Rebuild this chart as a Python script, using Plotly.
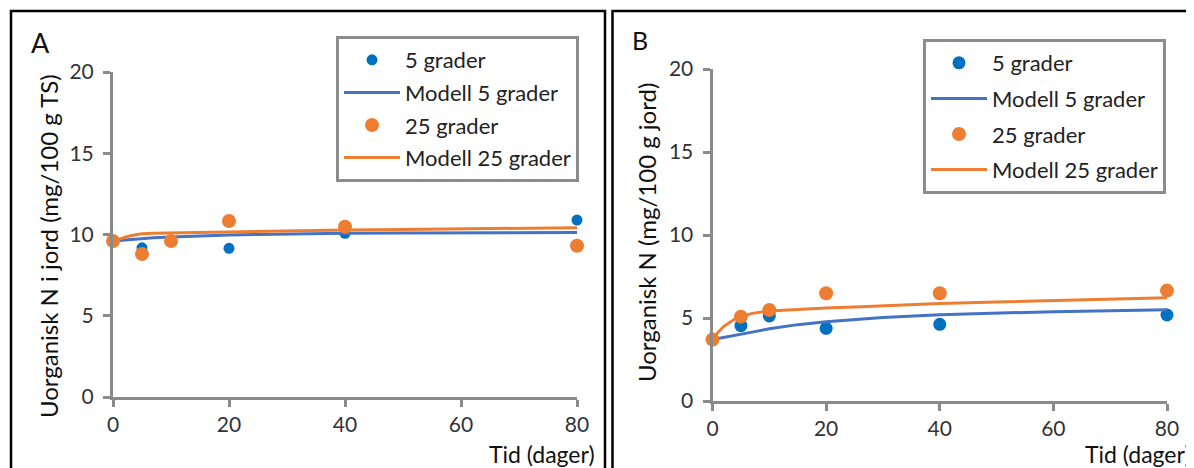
import plotly.graph_objects as go

# ---------------- data ----------------
days = [0, 5, 10, 20, 40, 80]
a_5 = [9.6, 9.18, 9.6, 9.15, 10.07, 10.89]
a_25 = [9.6, 8.8, 9.6, 10.83, 10.48, 9.31]
b_5 = [3.7, 4.54, 5.12, 4.38, 4.62, 5.18]
b_25 = [3.7, 5.08, 5.48, 6.49, 6.49, 6.65]

model_days = [0, 1, 2, 3, 4, 5, 7, 10, 15, 20, 25, 30, 40, 50, 60, 70, 80]
a_model_5 = [9.6, 9.63, 9.66, 9.69, 9.73, 9.76, 9.8, 9.85, 9.92, 9.97, 10.0, 10.03, 10.07, 10.09, 10.1, 10.12, 10.13]
a_model_25 = [9.6, 9.72, 9.83, 9.92, 9.99, 10.04, 10.08, 10.1, 10.14, 10.17, 10.2, 10.22, 10.28, 10.31, 10.34, 10.38, 10.42]
b_model_5 = [3.7, 3.76, 3.83, 3.9, 3.96, 4.02, 4.15, 4.35, 4.6, 4.78, 4.92, 5.03, 5.2, 5.3, 5.38, 5.44, 5.5]
b_model_25 = [3.7, 4.15, 4.5, 4.75, 4.95, 5.08, 5.28, 5.42, 5.52, 5.6, 5.67, 5.74, 5.88, 5.97, 6.05, 6.14, 6.22]

x_ticks = [0, 20, 40, 60, 80]
y_ticks = [0, 5, 10, 15, 20]
names = ["5 grader", "Modell 5 grader", "25 grader", "Modell 25 grader"]

W, H = 1194, 468
OFF = 8  # page body margin offset
FONT = "Lato"
BLUE_PT = "#0070C0"
BLUE_LN = "#4472C4"
ORANGE = "#ED7D31"
AXIS = "#8A8A8A"

def px_x(p):
    return (p - OFF) / W

def px_y(p):
    return 1 - (p - OFF) / H

fig = go.Figure()

def add_panel(xa, ya, leg, pts5, pts25, mod5, mod25, s5, s25):
    common = dict(xaxis=xa, yaxis=ya, legend=leg, cliponaxis=False)
    fig.add_trace(go.Scatter(x=days, y=pts5, mode="markers", name=names[0], legendgroup=leg + "a",
                             marker=dict(color=BLUE_PT, size=s5), **common))
    fig.add_trace(go.Scatter(x=model_days, y=mod5, mode="lines", name=names[1], legendgroup=leg + "b",
                             line=dict(color=BLUE_LN, width=3), **common))
    fig.add_trace(go.Scatter(x=days, y=pts25, mode="markers", name=names[2], legendgroup=leg + "c",
                             marker=dict(color=ORANGE, size=s25), **common))
    fig.add_trace(go.Scatter(x=model_days, y=mod25, mode="lines", name=names[3], legendgroup=leg + "d",
                             line=dict(color=ORANGE, width=3), **common))

add_panel("x", "y", "legend", a_5, a_25, a_model_5, a_model_25, 11, 14)
add_panel("x2", "y2", "legend2", b_5, b_25, b_model_5, b_model_25, 13, 14)

axis_common = dict(showline=True, linecolor=AXIS, linewidth=3, ticks="outside", ticklen=7,
                   tickwidth=3, tickcolor=AXIS, showgrid=False, zeroline=False,
                   tickfont=dict(family=FONT, size=21, color="#333333"), fixedrange=True)

fig.update_layout(
    width=W, height=H, margin=dict(l=0, r=0, t=0, b=0, pad=0, autoexpand=False),
    paper_bgcolor="white", plot_bgcolor="white",
    font=dict(family=FONT, color="#222222"),
    showlegend=True,
    xaxis=dict(domain=[px_x(113), px_x(577)], range=[0, 80], tickvals=x_ticks, anchor="y",
               ticklabelstandoff=0, **axis_common),
    yaxis=dict(domain=[px_y(397), px_y(72)], range=[0, 20], tickvals=y_ticks, anchor="x",
               ticklabelstandoff=5, **axis_common),
    xaxis2=dict(domain=[px_x(712.5), px_x(1167)], range=[0, 80], tickvals=x_ticks, anchor="y2",
                ticklabelstandoff=0, **axis_common),
    yaxis2=dict(domain=[px_y(401), px_y(69)], range=[0, 20], tickvals=y_ticks, anchor="x2",
                ticklabelstandoff=5, **axis_common),
    legend=dict(x=px_x(336), y=px_y(36), xanchor="left", yanchor="top", bgcolor="white",
                bordercolor="#8C8C8C", borderwidth=3, traceorder="grouped", tracegroupgap=1,
                font=dict(family=FONT, size=22, color="#222222"), itemwidth=56),
    legend2=dict(x=px_x(923), y=px_y(39), xanchor="left", yanchor="top", bgcolor="white",
                 bordercolor="#8C8C8C", borderwidth=3, traceorder="grouped", tracegroupgap=4,
                 font=dict(family=FONT, size=22, color="#222222"), itemwidth=56),
)

# panel frames
fig.add_shape(type="rect", xref="paper", yref="paper", x0=px_x(11), x1=px_x(605), y0=-0.1, y1=px_y(11),
              line=dict(color="black", width=2.5), layer="below")
fig.add_shape(type="rect", xref="paper", yref="paper", x0=px_x(612.5), x1=1.1, y0=-0.1, y1=px_y(11),
              line=dict(color="black", width=2.5), layer="below")

def ann(text, x, y, size, angle=0, xanchor="center"):
    fig.add_annotation(text=text, x=px_x(x), y=px_y(y), xref="paper", yref="paper", showarrow=False,
                       textangle=angle, xanchor=xanchor, yanchor="middle",
                       font=dict(family=FONT, size=size, color="#111111"))

ann("A", 40, 43, 27)
ann("B", 640, 40, 25)
ann("Uorganisk N i jord (mg/100 g TS)", 48, 246, 24, angle=-90)
ann("Uorganisk N (mg/100 g jord)", 646, 233, 24, angle=-90)
ann("Tid (dager)", 597, 454, 23, xanchor="right")
ann("Tid (dager)", 1193, 454, 23, xanchor="right")

fig.write_html("out.html")
